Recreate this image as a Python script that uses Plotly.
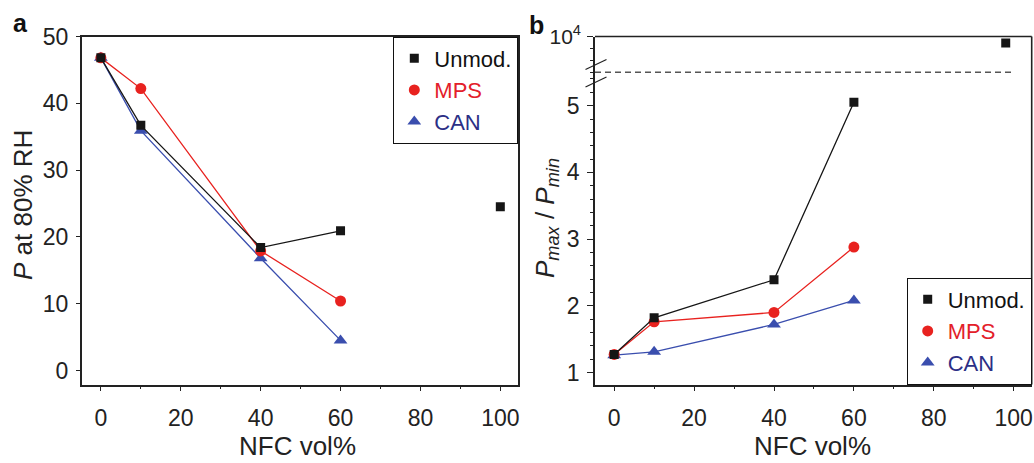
import plotly.graph_objects as go

# ---- data -------------------------------------------------------------
nfc = [0, 10, 40, 60]            # NFC vol% for the composite series
nfc_pure = 100                  # pure NFC film (panel a)
nfc_pure_b = 98                 # pure NFC film (panel b, upper segment)

# panel a: P at 80% RH
p80_unmod = [46.8, 36.7, 18.4, 20.9]
p80_unmod_pure = 24.5
p80_mps = [46.8, 42.2, 17.9, 10.4]
p80_can = [46.8, 35.9, 16.8, 4.5]

# panel b: Pmax / Pmin
ratio_unmod = [1.27, 1.82, 2.39, 5.05]
ratio_unmod_pure = 9450
ratio_mps = [1.27, 1.76, 1.90, 2.88]
ratio_can = [1.26, 1.31, 1.72, 2.08]

series = ["Unmod.", "MPS", "CAN"]

# ---- styling ----------------------------------------------------------
W, H = 1034, 463
FONT = "Liberation Sans, Arial, sans-serif"
AX = "#222222"
C_BLACK = "#161616"
C_RED = "#e8221f"
C_BLUE = "#3a4eae"
TXT_RED = "#e3202a"
TXT_BLUE = "#2c2f86"

def px_x(x):
    return x / W

def px_y(y):
    return 1 - y / H

# plot-area edges in pixels
A_L, A_R = 81.7, 518.3
B_L, B_R = 595.0, 1031.7
TOP, BOT = 36.5, 384.5
BREAK = 72.3

fig = go.Figure()

def add_series(xs, ys, color, symbol, size, name, legend, xa, ya,
               extra_x=None, extra_y=None):
    fig.add_trace(go.Scatter(x=xs, y=ys, mode="lines",
                             line=dict(color=color, width=1.3),
                             showlegend=False, xaxis=xa, yaxis=ya,
                             hoverinfo="skip"))
    fig.add_trace(go.Scatter(x=xs, y=ys, mode="markers",
                             marker=dict(color=color, symbol=symbol, size=size,
                                         line=dict(width=0)),
                             name=name, legend=legend, xaxis=xa, yaxis=ya))
    if extra_x is not None:
        fig.add_trace(go.Scatter(x=[extra_x], y=[extra_y], mode="markers",
                                 marker=dict(color=color, symbol=symbol, size=size,
                                             line=dict(width=0)),
                                 showlegend=False, xaxis=xa, yaxis=ya))

names = {
    "Unmod.": "<span style='color:#111111'>Unmod.</span>",
    "MPS": f"<span style='color:{TXT_RED}'>MPS</span>",
    "CAN": f"<span style='color:{TXT_BLUE}'>CAN</span>",
}

# panel a
add_series(nfc, p80_can, C_BLUE, "triangle-up", 12, names["CAN"], "legend", "x", "y")
add_series(nfc, p80_mps, C_RED, "circle", 11, names["MPS"], "legend", "x", "y")
add_series(nfc, p80_unmod, C_BLACK, "square", 9, names["Unmod."], "legend", "x", "y",
           nfc_pure, p80_unmod_pure)

# panel b (lower segment) + pure NFC on the upper segment
add_series(nfc, ratio_can, C_BLUE, "triangle-up", 12, names["CAN"], "legend2", "x2", "y2")
add_series(nfc, ratio_mps, C_RED, "circle", 11, names["MPS"], "legend2", "x2", "y2")
add_series(nfc, ratio_unmod, C_BLACK, "square", 9, names["Unmod."], "legend2", "x2", "y2")
fig.add_trace(go.Scatter(x=[nfc_pure_b], y=[ratio_unmod_pure], mode="markers",
                         marker=dict(color=C_BLACK, symbol="square", size=9),
                         showlegend=False, xaxis="x2", yaxis="y3"))

tickfont = dict(family=FONT, size=23, color=AX)
common = dict(showline=True, linecolor=AX, linewidth=1.6, ticks="outside",
              tickcolor=AX, tickwidth=1.3, showgrid=False, automargin=False,
              zeroline=False)

x_range = [-4.8, 104.5]
minor_x = dict(dtick=10, ticks="outside", ticklen=3, tickcolor=AX, showgrid=False)

fig.update_layout(
    template="none",
    width=W, height=H, margin=dict(l=0, r=0, t=0, b=0, autoexpand=False),
    paper_bgcolor="white", plot_bgcolor="white",
    font=dict(family=FONT, color=AX),
    xaxis=dict(domain=[px_x(A_L), px_x(A_R)], range=x_range, anchor="y",
               dtick=20, tick0=0, mirror=True, ticklen=5, ticklabelstandoff=7,
               minor=minor_x, tickfont=tickfont, **common),
    yaxis=dict(domain=[px_y(BOT), px_y(TOP)], range=[-2.1, 50], anchor="x",
               dtick=10, tick0=0, mirror=True, ticklen=4, ticklabelstandoff=3,
               tickfont=tickfont, **common),
    xaxis2=dict(domain=[px_x(B_L), px_x(B_R)], range=x_range, anchor="y2",
                dtick=20, tick0=0, ticklen=5, ticklabelstandoff=7,
                minor=minor_x, tickfont=tickfont, **common),
    yaxis2=dict(domain=[px_y(BOT), px_y(BREAK)], range=[0.82, 5.5], anchor="x2",
                dtick=1, tick0=0, ticklen=6, ticklabelstandoff=3,
                minor=dict(dtick=0.2, ticks="outside", ticklen=3, tickcolor=AX,
                           showgrid=False),
                tickfont=tickfont, **common),
    yaxis3=dict(domain=[px_y(BREAK), px_y(TOP)], range=[7000, 10000], anchor="x2",
                tickvals=[10000], ticktext=["10<sup>4</sup>"], ticklen=6,
                ticklabelstandoff=2,
                minor=dict(dtick=1000, ticks="outside", ticklen=3, tickcolor=AX,
                           showgrid=False),
                tickfont=dict(family=FONT, size=21, color=AX), **common),
    legend=dict(x=px_x(A_R), y=px_y(TOP), xanchor="right", yanchor="top",
                bgcolor="white", bordercolor="#111111", borderwidth=1,
                font=dict(family=FONT, size=22), traceorder="reversed",
                itemwidth=30, tracegroupgap=0),
    legend2=dict(x=px_x(B_R), y=px_y(BOT), xanchor="right", yanchor="bottom",
                 bgcolor="white", bordercolor="#111111", borderwidth=1,
                 font=dict(family=FONT, size=22), traceorder="reversed",
                 itemwidth=30, tracegroupgap=0),
)

# panel b frame (top and right edges) and axis-break marks
fig.add_shape(type="line", xref="paper", yref="paper",
              x0=px_x(B_L), x1=px_x(B_R), y0=px_y(TOP), y1=px_y(TOP),
              line=dict(color=AX, width=1.6))
fig.add_shape(type="line", xref="paper", yref="paper",
              x0=px_x(B_R), x1=px_x(B_R), y0=px_y(BOT), y1=px_y(TOP),
              line=dict(color=AX, width=1.6))
fig.add_shape(type="line", xref="x2", yref="paper",
              x0=x_range[0], x1=100, y0=px_y(BREAK), y1=px_y(BREAK),
              line=dict(color="#555555", width=1.4, dash="6px,4px"))
for yc in (64.5, 82.0):
    fig.add_shape(type="line", xref="paper", yref="paper",
                  x0=px_x(585.5), x1=px_x(606.5), y0=px_y(yc + 5), y1=px_y(yc - 5),
                  line=dict(color=AX, width=1.2))

# axis titles and panel letters
title_font = dict(family=FONT, size=26, color=AX)
fig.add_annotation(text="NFC vol%", x=px_x(297.5), y=px_y(446), xref="paper", yref="paper",
                   showarrow=False, font=title_font, xanchor="center", yanchor="middle")
fig.add_annotation(text="NFC vol%", x=px_x(812.5), y=px_y(446), xref="paper", yref="paper",
                   showarrow=False, font=title_font, xanchor="center", yanchor="middle")
fig.add_annotation(text="<i>P</i> at 80% RH", x=px_x(23), y=px_y(205), xref="paper", yref="paper",
                   showarrow=False, font=title_font, textangle=-90,
                   xanchor="center", yanchor="middle")
fig.add_annotation(text="<i>P<sub>max</sub></i> / <i>P<sub>min</sub></i>",
                   x=px_x(546), y=px_y(218), xref="paper", yref="paper",
                   showarrow=False, font=title_font, textangle=-90,
                   xanchor="center", yanchor="middle")
letter_font = dict(family=FONT, size=25, color="#111111")
fig.add_annotation(text="<b>a</b>", x=px_x(20), y=px_y(23), xref="paper", yref="paper",
                   showarrow=False, font=letter_font, xanchor="center", yanchor="middle")
fig.add_annotation(text="<b>b</b>", x=px_x(536), y=px_y(25), xref="paper", yref="paper",
                   showarrow=False, font=letter_font, xanchor="center", yanchor="middle")

fig.write_html("out.html")
